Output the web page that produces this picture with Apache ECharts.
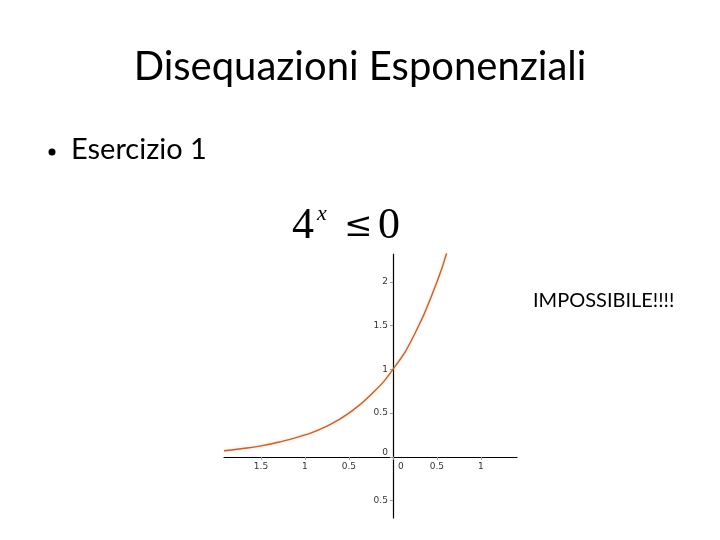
<!DOCTYPE html>
<html>
<head>
<meta charset="utf-8">
<script src="https://cdn.jsdelivr.net/npm/echarts@6/dist/echarts.min.js"></script>
<style>
    html, body { margin: 0; padding: 0; background: #fff; }
    #container { width: 720px; height: 540px; }
</style>
</head>
<body>
<div id="container"></div>
<script>
// punti (curva y = 4^x)
const curveX = [-1.92, -1.75, -1.5, -1.25, -1, -0.75, -0.5, -0.25, 0, 0.25, 0.5, 0.61];
const curveY = [0.07, 0.09, 0.125, 0.18, 0.25, 0.35, 0.5, 0.71, 1, 1.41, 2, 2.33];

const xTicks = [-1.5, -1, -0.5, 0, 0.5, 1];
const yTicks = [-0.5, 0, 0.5, 1, 1.5, 2];

const titleText = 'Disequazioni Esponenziali';
const bulletText = 'Esercizio 1';
const noteText = 'IMPOSSIBILE!!!!';

const grid = { left: 224, right: 203, top: 254, bottom: 22 };
const xMin = -1.92, xMax = 1.41;
const yMin = -0.7, yMax = 2.32;

// gli assi passano per l'origine: spostamento dal bordo della griglia
const gridW = 720 - grid.left - grid.right;
const gridH = 540 - grid.top - grid.bottom;
const xOffset = -(0 - xMin) / (xMax - xMin) * gridW;
const yOffset = -(0 - yMin) / (yMax - yMin) * gridH;

const chart = echarts.init(document.getElementById('container'));

// il segno meno non si vede nell'immagine; lo zero è spostato come nell'originale
const labelFmt = (v) => v === 0 ? '{z|0}' : String(Math.abs(v));

const labelStyle = {
    color: '#333',
    fontSize: 9,
    fontFamily: 'DejaVu Sans',
};

chart.setOption({
    backgroundColor: '#fff',
    animation: false,
    grid: grid,
    xAxis: {
        type: 'value',
        min: xMin,
        max: xMax,
        position: 'bottom',
        offset: yOffset,
        splitLine: { show: false },
        axisLine: { onZero: false, lineStyle: { color: '#000', width: 1.2 } },
        axisTick: { customValues: xTicks, length: 3, lineStyle: { color: '#999' } },
        axisLabel: {
            customValues: xTicks,
            formatter: labelFmt,
            ...labelStyle,
            margin: 5,
            rich: { z: { ...labelStyle, padding: [0, 0, 0, 16] } },
        },
    },
    yAxis: {
        type: 'value',
        min: yMin,
        max: yMax,
        position: 'left',
        offset: xOffset,
        splitLine: { show: false },
        axisLine: { onZero: false, lineStyle: { color: '#000', width: 1.2 } },
        axisTick: { customValues: yTicks, length: 3, lineStyle: { color: '#999' } },
        axisLabel: {
            customValues: yTicks,
            formatter: labelFmt,
            ...labelStyle,
            margin: 5,
            rich: { z: { ...labelStyle, padding: [0, 0, 9, 0] } },
        },
    },
    series: [{
        type: 'line',
        data: curveX.map((x, i) => [x, curveY[i]]),
        smooth: true,
        symbol: 'none',
        clip: true,
        lineStyle: {
            color: '#b5673f',
            width: 1.4,
            shadowColor: 'rgba(245,160,90,0.6)',
            shadowBlur: 3,
        },
    }],
    graphic: [
        {
            type: 'text',
            x: 360, y: 67,
            style: {
                text: titleText,
                font: '40px Lato',
                fill: '#000',
                align: 'center',
                verticalAlign: 'middle',
            },
        },
        {
            type: 'circle',
            shape: { cx: 52, cy: 152, r: 3.5 },
            style: { fill: '#000' },
        },
        {
            type: 'text',
            x: 71, y: 150,
            style: {
                text: bulletText,
                font: '29px Lato',
                fill: '#000',
                align: 'left',
                verticalAlign: 'middle',
            },
        },
        {
            type: 'text',
            x: 292, y: 226,
            style: {
                text: '4',
                font: '44px "Liberation Serif"',
                fill: '#000',
                align: 'left',
                verticalAlign: 'middle',
            },
        },
        {
            type: 'text',
            x: 317, y: 214,
            style: {
                text: 'x',
                font: 'italic 22px "Liberation Serif"',
                fill: '#000',
                align: 'left',
                verticalAlign: 'middle',
            },
        },
        {
            type: 'text',
            x: 344, y: 227,
            style: {
                text: '≤',
                font: '34px "DejaVu Serif"',
                fill: '#000',
                align: 'left',
                verticalAlign: 'middle',
            },
        },
        {
            type: 'text',
            x: 378, y: 226,
            style: {
                text: '0',
                font: '44px "Liberation Serif"',
                fill: '#000',
                align: 'left',
                verticalAlign: 'middle',
            },
        },
        {
            type: 'text',
            x: 533, y: 301,
            style: {
                text: noteText,
                font: '20px Lato',
                fill: '#000',
                align: 'left',
                verticalAlign: 'middle',
            },
        },
    ],
});
</script>
</body>
</html>
